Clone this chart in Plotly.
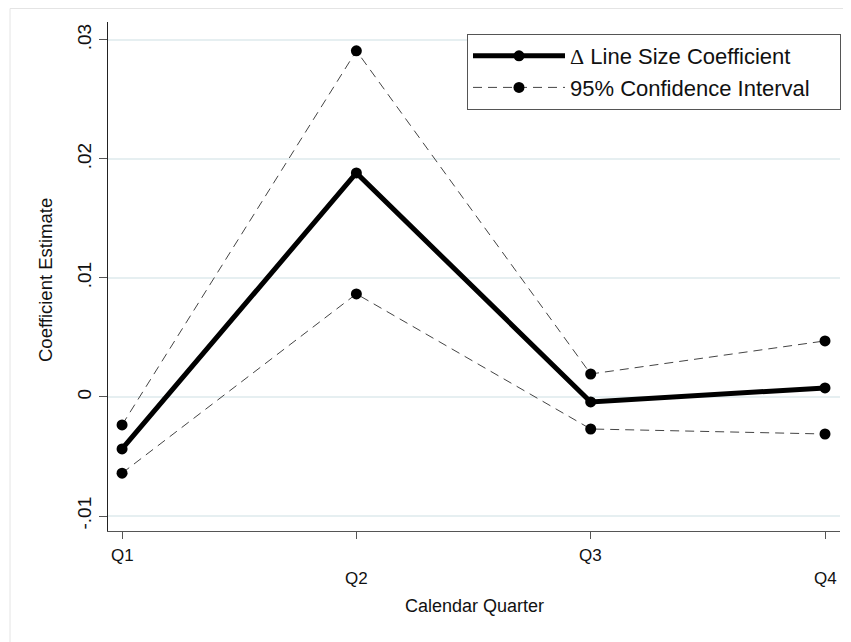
import plotly.graph_objects as go

quarters = ["Q1", "Q2", "Q3", "Q4"]
qpos = [1, 2, 3, 4]
coef = [-0.00437, 0.01882, -0.00042, 0.00076]
upper = [-0.00235, 0.02908, 0.00193, 0.00471]
lower = [-0.00640, 0.00866, -0.00269, -0.00311]
ytick_vals = [-0.01, 0, 0.01, 0.02, 0.03]
ytick_text = ["-.01", "0", ".01", ".02", ".03"]

FONT = "Liberation Sans, Arial, sans-serif"

# page body has an 8px margin: plot area is at page x 108..840, y 22..531
L, T, PW, PH = 100, 14, 732, 509

fig = go.Figure()
fig.add_trace(go.Scatter(
    x=qpos, y=coef, mode="lines+markers",
    name="<span style='font-family:Liberation Serif, Times New Roman, serif'>Δ</span> Line Size Coefficient",
    line=dict(color="black", width=5),
    marker=dict(color="black", size=11),
))
fig.add_trace(go.Scatter(
    x=qpos, y=upper, mode="lines+markers",
    name="95% Confidence Interval&nbsp;&nbsp;&nbsp;&nbsp;",
    line=dict(color="#444444", width=1, dash="9px,6px"),
    marker=dict(color="black", size=11),
))
fig.add_trace(go.Scatter(
    x=qpos, y=lower, mode="lines+markers",
    name="95% Confidence Interval", showlegend=False,
    line=dict(color="#444444", width=1, dash="9px,6px"),
    marker=dict(color="black", size=11),
))

def px(xp):
    return (xp - 8 - L) / PW

def py(yp):
    return (T + PH - (yp - 8)) / PH

annotations = []
for i, (p, q) in enumerate(zip(qpos, quarters)):
    annotations.append(dict(
        x=p, y=py(555) if i % 2 == 0 else py(578), xref="x", yref="paper",
        text=q, showarrow=False, font=dict(family=FONT, size=17, color="#111"),
        xanchor="center", yanchor="middle",
    ))
annotations.append(dict(
    x=px(475), y=py(606), xref="paper", yref="paper",
    text="Calendar Quarter", showarrow=False, font=dict(family=FONT, size=18, color="#111"),
    xanchor="center", yanchor="middle",
))
annotations.append(dict(
    x=px(45), y=py(280), xref="paper", yref="paper",
    text="Coefficient Estimate", showarrow=False, textangle=-90,
    font=dict(family=FONT, size=18.5, color="#111"),
    xanchor="center", yanchor="middle",
))

fig.update_layout(
    width=843, height=634,
    margin=dict(l=L, r=843 - L - PW, t=T, b=634 - T - PH, autoexpand=False),
    paper_bgcolor="white", plot_bgcolor="white",
    font=dict(family=FONT, color="#111"),
    showlegend=True,
    legend=dict(
        x=px(467), y=py(34), xanchor="left", yanchor="top",
        bgcolor="white", bordercolor="#555", borderwidth=1,
        font=dict(family=FONT, size=22, color="#111"),
        itemwidth=92, tracegroupgap=2,
    ),
    xaxis=dict(
        range=[0.94, 4.064], tickvals=qpos, ticktext=quarters, automargin=False,
        showticklabels=False, ticks="outside", ticklen=7, tickcolor="#555",
        showline=True, linecolor="#555", linewidth=1,
        showgrid=False, zeroline=False,
    ),
    yaxis=dict(
        range=[-0.01126, 0.0315], tickvals=ytick_vals, ticktext=ytick_text, automargin=False,
        tickangle=-90, ticks="outside", ticklen=8, tickcolor="#555",
        tickfont=dict(family=FONT, size=19),
        showline=True, linecolor="#222", linewidth=1,
        showgrid=True, gridcolor="#e6eff1", gridwidth=1.5, zeroline=False,
    ),
    annotations=annotations,
    shapes=[
        dict(type="line", xref="paper", yref="paper", x0=px(10), x1=px(10), y0=-0.3, y1=py(8.5),
             line=dict(color="#e4e4e4", width=1)),
        dict(type="line", xref="paper", yref="paper", x0=px(10), x1=1.1, y0=py(8.5), y1=py(8.5),
             line=dict(color="#e4e4e4", width=1)),
    ],
)

fig.write_html("out.html")
